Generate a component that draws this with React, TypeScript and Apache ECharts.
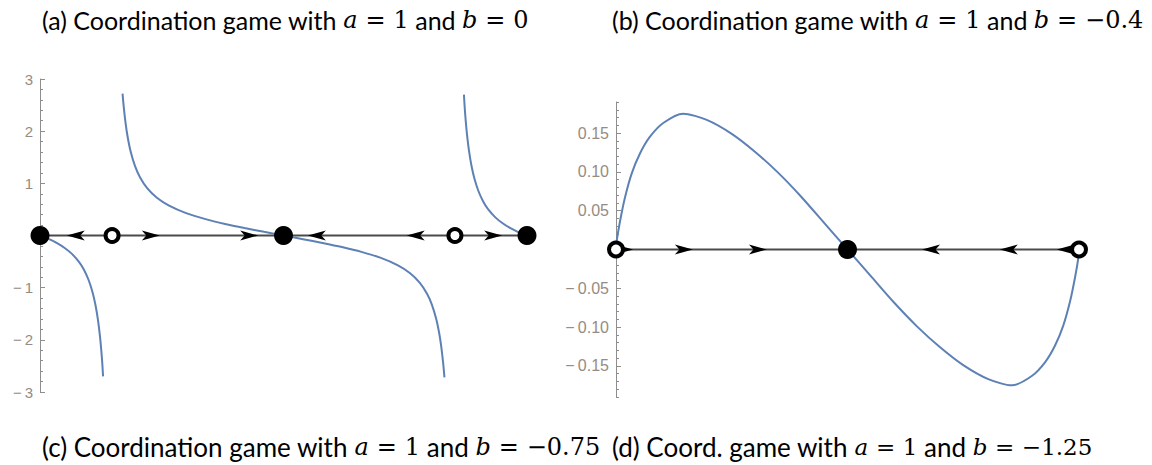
import React, { useEffect, useRef } from "react";
import * as echarts from "echarts";

// ---------- Panel (a): a = 1, b = 0 ----------
const curveA1: [number, number][] = [
  [0, 0], [0.01, -0.036], [0.02, -0.076], [0.035, -0.146], [0.05, -0.234], [0.065, -0.348],
  [0.08, -0.506], [0.09, -0.653], [0.1, -0.858], [0.108, -1.091], [0.114, -1.336],
  [0.119, -1.616], [0.123, -1.919], [0.126, -2.218], [0.128, -2.466], [0.1295, -2.7],
];
const curveA2: [number, number][] = [
  [0.1695, 2.72], [0.172, 2.462], [0.176, 2.135], [0.18, 1.889], [0.186, 1.615],
  [0.195, 1.333], [0.205, 1.121], [0.22, 0.908], [0.24, 0.724], [0.265, 0.573],
  [0.3, 0.43], [0.34, 0.314], [0.38, 0.222], [0.42, 0.143], [0.46, 0.07], [0.5, 0],
  [0.54, -0.07], [0.58, -0.143], [0.62, -0.222], [0.66, -0.314], [0.7, -0.43],
  [0.735, -0.573], [0.76, -0.724], [0.78, -0.908], [0.795, -1.121], [0.805, -1.333],
  [0.814, -1.615], [0.82, -1.889], [0.824, -2.135], [0.828, -2.462], [0.8305, -2.72],
];
const curveA3: [number, number][] = [
  [0.8705, 2.7], [0.872, 2.466], [0.874, 2.218], [0.877, 1.919], [0.881, 1.616],
  [0.886, 1.336], [0.892, 1.091], [0.9, 0.858], [0.91, 0.653], [0.92, 0.506],
  [0.935, 0.348], [0.95, 0.234], [0.965, 0.146], [0.98, 0.076], [0.99, 0.036], [1, 0],
];
const flowA: [number, number][] = [[0, 0], [1, 0]];
const stableA: [number, number][] = [[0, 0], [0.5, 0], [1, 0]];
const unstableA: [number, number][] = [[0.148, 0], [0.852, 0]];
const arrowsRightA: [number, number][] = [[0.246, 0], [0.448, 0], [0.949, 0]];
const arrowsLeftA: [number, number][] = [[0.055, 0], [0.55, 0], [0.753, 0]];

// ---------- Panel (b): a = 1, b = -0.4 ----------
const curveB: [number, number][] = [
  [0, 0], [0.0015, 0.011], [0.0086, 0.036], [0.019, 0.066], [0.034, 0.098],
  [0.052, 0.124], [0.073, 0.145], [0.102, 0.163], [0.145, 0.175], [0.196, 0.167],
  [0.25, 0.149], [0.3, 0.126], [0.35, 0.099], [0.4, 0.068], [0.45, 0.034],
  [0.5, 0], [0.55, -0.034], [0.6, -0.068], [0.65, -0.099], [0.7, -0.126],
  [0.75, -0.149], [0.804, -0.167], [0.855, -0.175], [0.898, -0.163], [0.927, -0.145],
  [0.948, -0.124], [0.966, -0.098], [0.981, -0.066], [0.9914, -0.036], [0.9985, -0.011],
  [1, 0],
];
const flowB: [number, number][] = [[0, 0], [1, 0]];
const stableB: [number, number][] = [[0.5, 0]];
const unstableB: [number, number][] = [[0, 0], [1, 0]];
const arrowsRightB: [number, number][] = [[0.037, 0], [0.166, 0], [0.326, 0]];
const arrowsLeftB: [number, number][] = [[0.661, 0], [0.829, 0], [0.952, 0]];

// ---------- Ticks ----------
const majorTicksB = [-0.15, -0.1, -0.05, 0, 0.05, 0.1, 0.15];
const labelTicksB = [-0.15, -0.1, -0.05, 0.05, 0.1, 0.15];
const minorTicksB = [
  -0.19, -0.18, -0.17, -0.16, -0.14, -0.13, -0.12, -0.11, -0.09, -0.08, -0.07, -0.06,
  -0.04, -0.03, -0.02, -0.01, 0.01, 0.02, 0.03, 0.04, 0.06, 0.07, 0.08, 0.09,
  0.11, 0.12, 0.13, 0.14, 0.16, 0.17, 0.18, 0.19,
];

// ---------- Captions ----------
const SP = "\u2004";
const captionA = ["(a) Coordination game with ", "a", `${SP}=${SP}1`, " and ", "b", `${SP}=${SP}0`];
const captionB = ["(b) Coordination game with ", "a", `${SP}=${SP}1`, " and ", "b", `${SP}=${SP}\u22120.4`];
const captionC = ["(c) Coordination game with ", "a", `${SP}=${SP}1`, " and ", "b", `${SP}=${SP}\u22120.75`];
const captionD = ["(d) Coord. game with ", "a", `${SP}=${SP}1`, " and ", "b", `${SP}=${SP}\u22121.25`];

const CURVE = "#5e81b5";
const AXIS = "#8e8e8e";
const LABEL = "#968c82";
const SANS = "Lato, 'Noto Sans', sans-serif";
const SERIF = "'DejaVu Serif', 'Liberation Serif', serif";

const ARROW_R = "path://M0,0 L20,5 L0,10 L5,5 Z";
const ARROW_L = "path://M20,0 L0,5 L20,10 L15,5 Z";

function richText(parts: string[]) {
  return (
    `{n|${parts[0]}}{i|${parts[1]}}{m|${parts[2]}}` +
    `{n|${parts[3]}}{i|${parts[4]}}{m|${parts[5]}}`
  );
}

function richStyles(size: number, mathSize: number) {
  return {
    n: { fontFamily: SANS, fontSize: size, fill: "#000" },
    i: { fontFamily: SERIF, fontSize: mathSize, fontStyle: "italic", fill: "#000" },
    m: { fontFamily: SERIF, fontSize: mathSize, fill: "#000" },
  };
}

function fmtNum(v: number, digits: number) {
  if (Math.abs(v) < 1e-9) return "";
  const s = digits > 0 ? Math.abs(v).toFixed(digits) : String(Math.abs(v));
  return v < 0 ? "\u2212\u2009" + s : s;
}

export default function App() {
  const ref = useRef<HTMLDivElement>(null);

  useEffect(() => {
    if (!ref.current) return;
    const chart = echarts.init(ref.current, undefined, { renderer: "svg" });

    const curveSeries = (data: [number, number][], gi: number) => ({
      type: "line",
      xAxisIndex: gi,
      yAxisIndex: gi === 0 ? 0 : 1,
      data,
      showSymbol: false,
      smooth: 0.25,
      clip: false,
      lineStyle: { color: CURVE, width: 2 },
      z: 3,
      silent: true,
    });
    const flowSeries = (data: [number, number][], gi: number) => ({
      type: "line",
      xAxisIndex: gi,
      yAxisIndex: gi === 0 ? 0 : 1,
      data,
      showSymbol: false,
      clip: false,
      lineStyle: { color: "#4a4a4a", width: 2 },
      z: 2,
      silent: true,
    });
    const arrowSeries = (data: [number, number][], gi: number, right: boolean) => ({
      type: "scatter",
      xAxisIndex: gi,
      yAxisIndex: gi === 0 ? 0 : 1,
      data,
      symbol: right ? ARROW_R : ARROW_L,
      symbolSize: [18, 10],
      symbolOffset: [right ? -9 : 9, 0],
      itemStyle: { color: "#000", opacity: 1 },
      clip: false,
      z: 4,
      silent: true,
    });
    const stableSeries = (data: [number, number][], gi: number, size: number) => ({
      type: "scatter",
      xAxisIndex: gi,
      yAxisIndex: gi === 0 ? 0 : 1,
      data,
      symbol: "circle",
      symbolSize: size,
      itemStyle: { color: "#000", opacity: 1 },
      clip: false,
      z: 6,
      silent: true,
    });
    const unstableSeries = (data: [number, number][], gi: number, size: number) => ({
      type: "scatter",
      xAxisIndex: gi,
      yAxisIndex: gi === 0 ? 0 : 1,
      data,
      symbol: "circle",
      symbolSize: size,
      itemStyle: { color: "#fff", borderColor: "#000", borderWidth: 4, opacity: 1 },
      clip: false,
      z: 6,
      silent: true,
    });

    const caption = (parts: string[], x: number, y: number, size: number, mathSize: number) => ({
      type: "text",
      x,
      y,
      style: {
        text: richText(parts),
        rich: richStyles(size, mathSize),
        align: "left",
        verticalAlign: "middle",
      },
    });

    chart.setOption({
      animation: false,
      backgroundColor: "#fff",
      grid: [
        { left: 40, top: 79, width: 487, height: 313 },
        { left: 616, top: 102, width: 463, height: 295 },
      ],
      xAxis: [
        { type: "value", gridIndex: 0, min: 0, max: 1, show: false },
        { type: "value", gridIndex: 1, min: 0, max: 1, show: false },
      ],
      yAxis: [
        {
          type: "value",
          gridIndex: 0,
          position: "left",
          min: -3,
          max: 3,
          interval: 1,
          axisLine: { show: true, onZero: false, lineStyle: { color: AXIS, width: 1 } },
          axisTick: { show: true, inside: true, length: 5, lineStyle: { color: AXIS } },
          minorTick: { show: true, splitNumber: 5, length: 3, lineStyle: { color: AXIS } },
          splitLine: { show: false },
          minorSplitLine: { show: false },
          axisLabel: {
            color: LABEL,
            fontSize: 15,
            fontFamily: "'Liberation Sans', Arial, sans-serif",
            margin: 7,
            formatter: (v: number) => fmtNum(v, 0),
          },
        },
        {
          type: "value",
          gridIndex: 1,
          position: "left",
          min: -0.19,
          max: 0.19,
          axisLine: { show: true, onZero: false, lineStyle: { color: AXIS, width: 1 } },
          axisTick: {
            show: true,
            inside: true,
            length: 5,
            customValues: majorTicksB,
            lineStyle: { color: AXIS },
          },
          splitLine: { show: false },
          axisLabel: {
            color: LABEL,
            fontSize: 16,
            fontFamily: "'Liberation Sans', Arial, sans-serif",
            margin: 7,
            customValues: labelTicksB,
            formatter: (v: number) => fmtNum(v, 2),
          },
        },
        {
          type: "value",
          gridIndex: 1,
          position: "left",
          offset: 0,
          min: -0.19,
          max: 0.19,
          axisLine: { show: false, onZero: false },
          axisTick: {
            show: true,
            inside: true,
            length: 3,
            customValues: minorTicksB,
            lineStyle: { color: AXIS },
          },
          splitLine: { show: false },
          axisLabel: { show: false },
        },
      ],
      series: [
        flowSeries(flowA, 0),
        curveSeries(curveA1, 0),
        curveSeries(curveA2, 0),
        curveSeries(curveA3, 0),
        arrowSeries(arrowsRightA, 0, true),
        arrowSeries(arrowsLeftA, 0, false),
        stableSeries(stableA, 0, 19),
        unstableSeries(unstableA, 0, 13),
        flowSeries(flowB, 1),
        curveSeries(curveB, 1),
        arrowSeries(arrowsRightB, 1, true),
        arrowSeries(arrowsLeftB, 1, false),
        stableSeries(stableB, 1, 19),
        unstableSeries(unstableB, 1, 14),
      ],
      graphic: [
        caption(captionA, 42, 20, 25, 24),
        caption(captionB, 612, 20, 25, 24),
        caption(captionC, 42, 447, 26, 24),
        caption(captionD, 612, 447, 26, 23),
      ],
    });

    return () => chart.dispose();
  }, []);

  return (
    <div
      ref={ref}
      style={{ position: "absolute", left: 0, top: 0, width: 1152, height: 465, background: "#fff" }}
    />
  );
}
